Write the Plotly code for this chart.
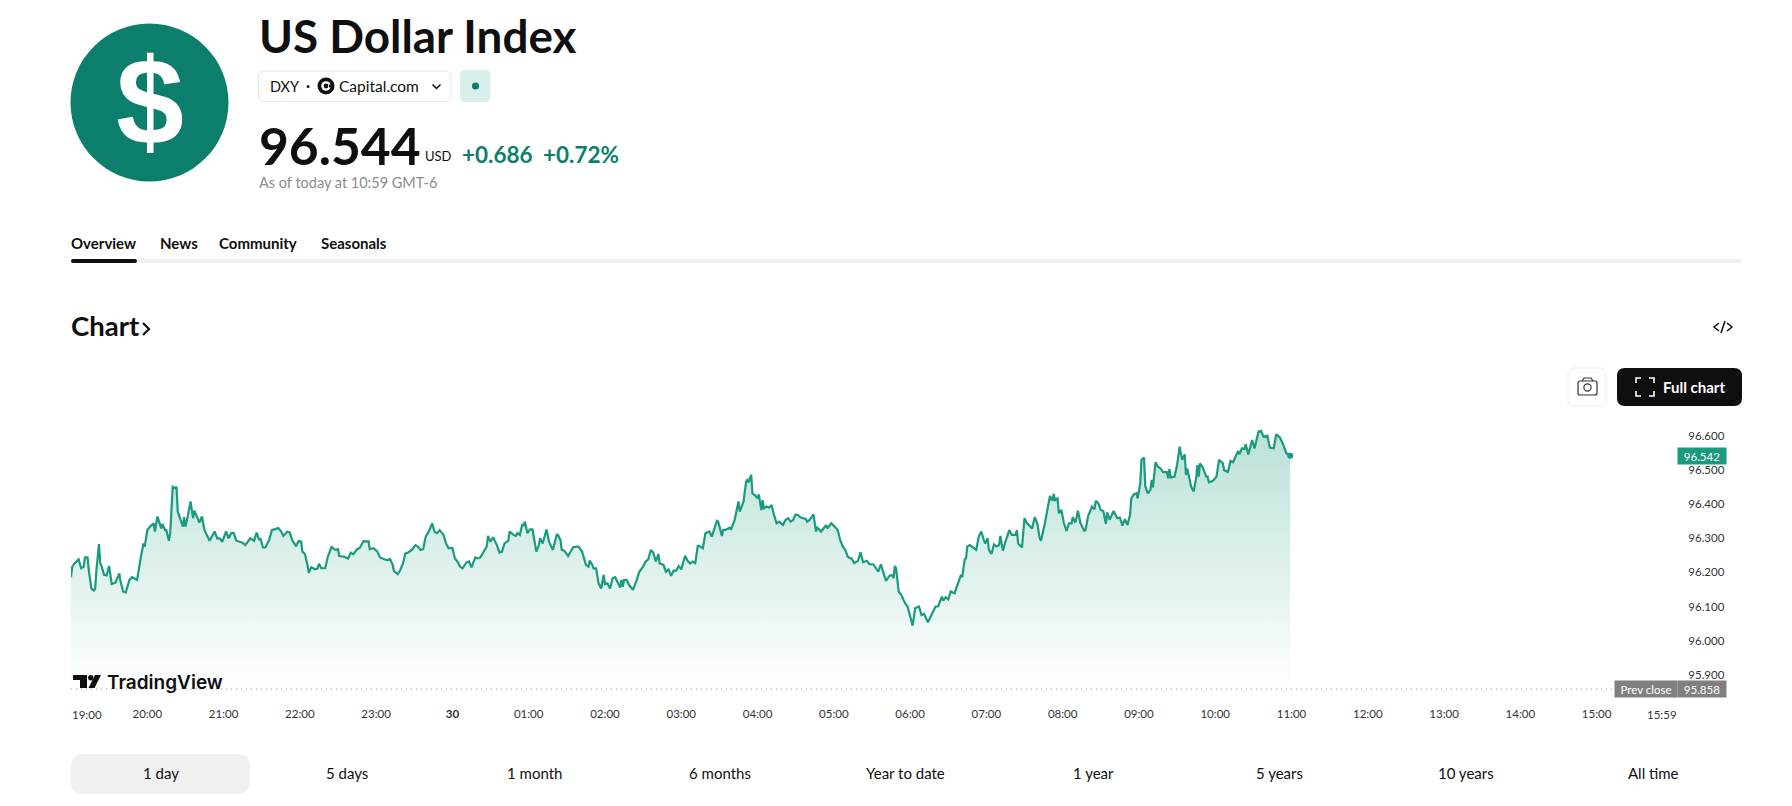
import pandas as pd
import plotly.graph_objects as go

W, H = 1792, 806
FONT = "Lato"
GREEN = "#0b7f6b"
LINE_GREEN = "#1a9a7f"

# minutes after 19:00 on the 29th
minutes = [
    0, 1, 3, 6, 8, 10, 11, 13, 14, 16, 18, 19, 20, 22, 23, 24, 26, 28, 30, 31, 32, 35, 38, 39, 41, 43, 46, 48, 50, 52,
    55, 57, 58, 60, 62, 65, 66, 68, 69, 71, 72, 74, 75, 77, 78, 80, 82, 83, 84, 86, 88, 89, 90, 92, 94, 96, 97, 99, 101, 103,
    105, 109, 113, 115, 117, 119, 122, 124, 126, 128, 130, 135, 137, 141, 144, 146, 148, 149, 151, 153, 155, 156, 158, 161,
    163, 165, 167, 170, 172, 174, 177, 179, 181, 182, 184, 186, 187, 189, 192, 194, 195, 197, 200, 202, 205, 206, 208, 210, 211, 215,
    218, 220, 222, 225, 227, 230, 234, 235, 238, 241, 243, 247, 249, 251, 253, 254, 257, 259, 261, 263, 265, 268, 271, 273, 275, 277,
    279, 282, 284, 286, 288, 290, 293, 295, 297, 300, 302, 304, 306, 308, 311, 313, 315, 318, 320,
    322, 324, 327, 328, 330, 332, 335, 337, 339, 341, 344, 345, 348, 350, 351, 353, 355, 356, 357, 359, 361, 363, 364, 366, 368, 369, 371, 374, 376, 379,
    382, 383, 385, 386, 388, 391, 395, 399, 402, 403, 405, 407, 408, 410, 411, 413, 415, 417, 419, 420, 422, 424, 426, 428, 430, 432, 433, 434, 435, 437,
    439, 442, 445, 447, 450, 452, 454, 456, 458, 460, 462, 463, 466, 468, 470, 472, 474, 476, 478, 480,
    483, 485, 487, 489, 491, 493, 494, 497, 499, 502, 504, 506, 508, 509, 512, 513, 515, 518, 519, 522, 524, 525, 526, 529, 531, 532, 533, 535, 536, 538,
    540, 541, 543, 544, 545, 547, 549, 551, 553, 555, 557, 560, 562, 564, 566, 568, 570, 572, 574, 578, 579, 581, 584, 585, 586, 587, 590, 594, 595, 598,
    601, 603, 605, 607, 609, 611, 613, 614, 616, 619, 621, 623, 626, 628, 631, 633, 635, 637, 639, 641, 644,
    646, 647, 648, 649, 651, 653, 656, 658, 660, 662, 664, 667, 669, 671, 674, 678, 680, 682, 685, 686, 688, 690, 692, 695, 698, 700, 701, 703, 704, 705,
    707, 710, 712, 714, 716, 718, 719, 721, 722, 724, 726, 728, 730, 731, 733, 735, 738, 740, 743, 744, 745, 748, 750, 752, 756, 758, 760, 762, 763, 766,
    768, 770, 772, 773, 774, 776, 777, 779, 781, 783, 785, 787, 788, 790, 792, 794, 797, 798, 800, 803, 805,
    806, 808, 810, 812, 814, 815, 817, 820, 823, 825, 827, 829, 831, 833, 834, 836, 838, 839, 841, 842, 844, 845, 847, 849, 850, 851, 853, 855, 857, 859,
    862, 863, 864, 865, 868, 870, 871, 872, 874, 876, 877, 878, 881, 883, 885, 886, 887, 888, 890, 893, 894, 895, 898, 901, 903, 906, 907, 910, 912, 914,
    918, 919, 921, 923, 924, 926, 929, 931, 934, 936, 938, 941, 943, 946, 948, 951, 953, 956, 959,
]

prices = [
    96.186, 96.217, 96.227, 96.238, 96.212, 96.217, 96.244, 96.244, 96.207, 96.153, 96.147, 96.152, 96.207, 96.283, 96.227, 96.219, 96.193, 96.191, 96.219, 96.188, 96.166, 96.170, 96.197, 96.173, 96.144, 96.141, 96.178, 96.186, 96.183, 96.178,
    96.246, 96.285, 96.276, 96.323, 96.334, 96.344, 96.320, 96.364, 96.352, 96.329, 96.342, 96.324, 96.324, 96.293, 96.315, 96.451, 96.447, 96.451, 96.378, 96.354, 96.334, 96.362, 96.334, 96.368, 96.408, 96.359, 96.381, 96.364, 96.346, 96.364,
    96.324, 96.293, 96.320, 96.300, 96.300, 96.290, 96.320, 96.300, 96.315, 96.315, 96.293, 96.287, 96.280, 96.300, 96.293, 96.317, 96.295, 96.300, 96.273, 96.273, 96.293, 96.297, 96.324, 96.329,
    96.330, 96.322, 96.307, 96.319, 96.317, 96.295, 96.277, 96.292, 96.290, 96.261, 96.254, 96.222, 96.199, 96.215, 96.209, 96.212, 96.225, 96.212, 96.213, 96.246, 96.276, 96.271, 96.266, 96.268, 96.248, 96.246,
    96.241, 96.258, 96.253, 96.268, 96.271, 96.292, 96.291, 96.268, 96.271, 96.261, 96.244, 96.238, 96.236, 96.239, 96.222, 96.204, 96.195, 96.207, 96.225, 96.256, 96.258, 96.266, 96.280, 96.275, 96.266, 96.268,
    96.305, 96.324, 96.344, 96.319, 96.315, 96.324, 96.310, 96.285, 96.271, 96.271, 96.241, 96.232, 96.217, 96.212, 96.229, 96.232, 96.215, 96.244, 96.241,
    96.244, 96.256, 96.276, 96.307, 96.290, 96.303, 96.280, 96.258, 96.261, 96.285, 96.293, 96.320, 96.310, 96.307, 96.315, 96.310, 96.342, 96.336, 96.349, 96.315, 96.326, 96.326, 96.305, 96.261, 96.280, 96.300, 96.285, 96.326, 96.290, 96.266,
    96.310, 96.310, 96.295, 96.266, 96.264, 96.248, 96.274, 96.276, 96.261, 96.246, 96.222, 96.217, 96.235, 96.222, 96.212, 96.212, 96.168, 96.153, 96.193, 96.166, 96.168, 96.153, 96.183, 96.186, 96.173, 96.156, 96.178, 96.158, 96.178, 96.178,
    96.163, 96.149, 96.178, 96.202, 96.217, 96.232, 96.238, 96.266, 96.258, 96.232, 96.254, 96.227, 96.222, 96.202, 96.209, 96.190, 96.205, 96.205, 96.219, 96.209,
    96.249, 96.234, 96.226, 96.232, 96.227, 96.278, 96.278, 96.271, 96.315, 96.320, 96.305, 96.329, 96.351, 96.349, 96.307, 96.325, 96.325, 96.331, 96.325, 96.354, 96.398, 96.408, 96.378, 96.408, 96.466, 96.471, 96.464, 96.486, 96.432, 96.427,
    96.417, 96.429, 96.383, 96.412, 96.388, 96.393, 96.390, 96.398, 96.368, 96.344, 96.349, 96.339, 96.354, 96.359, 96.349, 96.354, 96.370, 96.368, 96.361, 96.357, 96.349, 96.354, 96.370, 96.349, 96.320, 96.331, 96.320, 96.339, 96.329, 96.344,
    96.331, 96.325, 96.295, 96.276, 96.266, 96.246, 96.241, 96.241, 96.227, 96.234, 96.259, 96.230, 96.234, 96.224, 96.224, 96.212, 96.202, 96.224, 96.202, 96.175, 96.191,
    96.192, 96.183, 96.219, 96.212, 96.144, 96.134, 96.110, 96.100, 96.070, 96.044, 96.095, 96.100, 96.075, 96.078, 96.054, 96.085, 96.100, 96.100, 96.129, 96.117, 96.127, 96.121, 96.144, 96.139, 96.168, 96.193, 96.186, 96.239, 96.241, 96.276,
    96.280, 96.271, 96.266, 96.305, 96.320, 96.295, 96.285, 96.300, 96.266, 96.254, 96.282, 96.276, 96.280, 96.307, 96.264, 96.290, 96.324, 96.310, 96.310, 96.324, 96.285, 96.273, 96.359, 96.344, 96.329, 96.362, 96.344, 96.300, 96.293, 96.344,
    96.383, 96.424, 96.410, 96.430, 96.412, 96.417, 96.373, 96.383, 96.344, 96.322, 96.344, 96.344, 96.362, 96.346, 96.381, 96.344, 96.322, 96.324, 96.365, 96.393, 96.385,
    96.410, 96.403, 96.383, 96.380, 96.342, 96.376, 96.354, 96.380, 96.359, 96.361, 96.337, 96.356, 96.339, 96.369, 96.417, 96.429, 96.432, 96.417, 96.461, 96.530, 96.537, 96.452, 96.432, 96.442, 96.471, 96.449, 96.523, 96.510, 96.505, 96.494,
    96.494, 96.476, 96.503, 96.478, 96.481, 96.515, 96.546, 96.569, 96.530, 96.546, 96.486, 96.505, 96.452, 96.437, 96.476, 96.515, 96.481, 96.520, 96.510, 96.481, 96.481, 96.464, 96.468, 96.481, 96.530, 96.520, 96.500, 96.495, 96.527, 96.523,
    96.556, 96.546, 96.564, 96.562, 96.576, 96.546, 96.588, 96.564, 96.613, 96.615, 96.598, 96.601, 96.566, 96.564, 96.605, 96.595, 96.579, 96.549, 96.542,
]

prev_close = 95.858
last_price = 96.542
y_ticks = [95.9, 96.0, 96.1, 96.2, 96.3, 96.4, 96.5, 96.6]
hour_labels = ["20:00", "21:00", "22:00", "23:00", "<b>30</b>", "01:00", "02:00", "03:00", "04:00", "05:00",
               "06:00", "07:00", "08:00", "09:00", "10:00", "11:00", "12:00", "13:00", "14:00", "15:00"]
range_labels = ["1 day", "5 days", "1 month", "6 months", "Year to date", "1 year", "5 years", "10 years", "All time"]
range_centers = [161, 347, 534, 720, 906, 1093, 1279, 1466, 1653]
tabs = [("Overview", 70), ("News", 159), ("Community", 218), ("Seasonals", 320)]

start = pd.Timestamp("2026-01-29 19:00")
times = [start + pd.Timedelta(minutes=m) for m in minutes]
hour_ticks = [start + pd.Timedelta(hours=h + 1) for h in range(len(hour_labels))]
axis_end = start + pd.Timedelta(minutes=1264)


def px(x):
    return x / W


def py(y):
    return 1 - y / H


def label(text, x, y, size, color="#0f0f0f", anchor="left", weight="normal", family=FONT):
    fig.add_annotation(x=px(x), y=py(y), xref="paper", yref="paper", text=text, showarrow=False,
                       xanchor=anchor, yanchor="middle", borderpad=0,
                       font=dict(family=family, size=size, color=color, weight=weight))


def tag(text, x, value, width, color):
    fig.add_annotation(x=px(x), y=value, xref="paper", yref="y", text=text, showarrow=False, xanchor="center",
                       yanchor="middle", width=width, height=16, bgcolor=color, borderpad=0,
                       font=dict(family=FONT, size=11.5, color="white"))


def rrect(x0, y0, x1, y1, r, fill, line=None, width=1, layer="below"):
    a, b, c, d = px(x0), py(y0), px(x1), py(y1)
    rx, ry = r / W, r / H
    path = (f"M {a + rx} {b} L {c - rx} {b} Q {c} {b} {c} {b - ry} L {c} {d + ry} Q {c} {d} {c - rx} {d} "
            f"L {a + rx} {d} Q {a} {d} {a} {d + ry} L {a} {b - ry} Q {a} {b} {a + rx} {b} Z")
    fig.add_shape(type="path", xref="paper", yref="paper", path=path, fillcolor=fill, layer=layer,
                  line=dict(color=line or "rgba(0,0,0,0)", width=width))


def circle(cx, cy, r, fill, line=None, width=1, layer="above"):
    fig.add_shape(type="circle", xref="paper", yref="paper", x0=px(cx - r), x1=px(cx + r), y0=py(cy + r), y1=py(cy - r),
                  fillcolor=fill, layer=layer, line=dict(color=line or "rgba(0,0,0,0)", width=width))


def stroke(points, color="#0f0f0f", width=1.5, fill=None):
    path = "M " + " L ".join(f"{px(x)} {py(y)}" for x, y in points)
    if fill:
        path += " Z"
    fig.add_shape(type="path", xref="paper", yref="paper", path=path, layer="above",
                  fillcolor=fill or "rgba(0,0,0,0)", line=dict(color=color if not fill else "rgba(0,0,0,0)", width=width))


fig = go.Figure()

fig.add_trace(go.Scatter(x=[start, axis_end], y=[prev_close, prev_close], mode="lines", hoverinfo="skip",
                         line=dict(color="#9a9a9a", width=1, dash="1px 4px")))
fig.add_trace(go.Scatter(x=[times[0], times[-1]], y=[prev_close, prev_close], mode="lines", hoverinfo="skip",
                         line=dict(width=0)))
fig.add_trace(go.Scatter(x=times, y=prices, mode="lines", fill="tonexty",
                         line=dict(color=LINE_GREEN, width=2.2),
                         fillgradient=dict(type="vertical", start=96.62, stop=prev_close,
                                           colorscale=[[0, "rgba(26,154,127,0.30)"], [1, "rgba(26,154,127,0)"]])))
fig.add_trace(go.Scatter(x=[times[-1]], y=[last_price], mode="markers", marker=dict(color=LINE_GREEN, size=6)))

fig.update_layout(
    width=W, height=H, showlegend=False, paper_bgcolor="white", plot_bgcolor="rgba(0,0,0,0)",
    margin=dict(l=0, r=0, t=0, b=0),
    font=dict(family=FONT, color="#131722"),
    xaxis=dict(domain=[px(71), px(1678)], range=[start, axis_end], type="date", showgrid=False, zeroline=False,
               showline=False, tickmode="array", tickvals=hour_ticks, ticktext=hour_labels, tickangle=0,
               ticks="outside", ticklen=3, tickcolor="rgba(0,0,0,0)", tickfont=dict(size=11.5, color="#333333")),
    yaxis=dict(domain=[py(700), py(420)], range=[95.8258, 96.647], side="right", showgrid=False, zeroline=False,
               showline=False, tickmode="array", tickvals=y_ticks, tickformat=".3f",
               ticks="outside", ticklen=7, tickcolor="rgba(0,0,0,0)", tickfont=dict(size=11.5, color="#333333")),
)

# header
circle(149.5, 102.5, 79, "#0b7f6b")
label("$", 149.5, 102, 122, "white", "center", "bold", "Liberation Sans")
label("US Dollar Index", 258, 36, 45.8, weight="bold")
rrect(258.5, 71, 451, 101.5, 6, "white", "#e4e4e4")
label("DXY", 269, 86, 14.5)
label("·", 305, 85, 15, weight="bold")
circle(326, 86, 8.5, "#0f0f0f")
circle(326, 86, 4.8, "white")
circle(326, 86, 2.4, "#0f0f0f")
rrect(329, 84.5, 332, 87.5, 0, "#0f0f0f", layer="above")
label("Capital.com", 338, 86, 15.5)
stroke([(432.5, 84.5), (436.5, 88.5), (440.5, 84.5)], width=1.5)
rrect(460, 70, 490.5, 102, 5, "#d8efeb")
circle(475.5, 86, 3.6, "#0b7f6b")
label("96.544", 258, 145, 51.5, weight="bold")
label("USD", 423.5, 156, 13)
label("+0.686", 461, 154, 22.5, GREEN, weight="bold")
label("+0.72%", 541.5, 154, 22.5, GREEN, weight="bold")
label("As of today at 10:59 GMT-6", 258, 183, 14.5, "#8c8c8c")

# tabs
for name, x in tabs:
    label(name, x, 243, 15, weight="bold")
rrect(137, 259, 1742, 263, 1, "#f0f0f0")
rrect(71, 259, 137, 263, 2, "#0f0f0f")

# chart header and buttons
label("Chart", 70, 326, 27.5, weight="bold")
stroke([(143, 323), (149, 329), (143, 335)], width=2.2)
stroke([(1719, 323), (1714, 327), (1719, 331)], width=1.5)
stroke([(1727, 323), (1732, 327), (1727, 331)], width=1.5)
stroke([(1721, 333), (1725, 321)], width=1.5)
rrect(1568, 368, 1606, 406, 6, "white", "#ececec")
rrect(1578, 381, 1597, 395, 2, "rgba(0,0,0,0)", "#333333", 1.2, layer="above")
stroke([(1582, 381), (1584, 378), (1591, 378), (1593, 381)], "#333333", 1.2)
circle(1587.5, 387.5, 3.6, "rgba(0,0,0,0)", "#333333", 1.2)
rrect(1617, 368, 1742, 406, 8, "#0f0f0f")
for sx, sy in [(1636, 378), (1654, 378), (1636, 396), (1654, 396)]:
    dx = 5 if sx < 1645 else -5
    dy = 5 if sy < 387 else -5
    stroke([(sx + dx, sy), (sx, sy), (sx, sy + dy)], "white", 1.6)
label("Full chart", 1662, 387, 15, "white", weight="bold")

# tags on the price axis
tag(f"{last_price:.3f}", 1702, last_price, 48, LINE_GREEN)
tag(f"{prev_close:.3f}", 1702, prev_close, 48, "#808080")
tag("Prev close", 1646, prev_close, 62, "#808080")

# first and last time labels sit inside the axis ends
fig.add_annotation(x=start, y=py(714), xref="x", yref="paper", text="19:00", showarrow=False, xanchor="left",
                   yanchor="middle", borderpad=0, font=dict(family=FONT, size=11.5, color="#333333"))
fig.add_annotation(x=px(1678), y=py(714), xref="paper", yref="paper", text="15:59", showarrow=False, xanchor="right",
                   yanchor="middle", borderpad=0, font=dict(family=FONT, size=11.5, color="#333333"))

# TradingView mark
stroke([(73, 675), (87, 675), (87, 688), (80, 688), (80, 680), (73, 680)], fill="#0f0f0f")
circle(90.8, 677.7, 2.7, "#0f0f0f")
stroke([(95, 675), (101, 675), (94.5, 688), (88.5, 688)], fill="#0f0f0f")
label("TradingView", 106, 682, 19, weight=600, family="Inter")

# range buttons
rrect(71, 754, 250, 794, 12, "#f0f0f0")
for name, x in zip(range_labels, range_centers):
    label(name, x, 773, 15, anchor="center")

fig.write_html("out.html", config=dict(displayModeBar=False), post_script="document.body.style.margin='0';")
